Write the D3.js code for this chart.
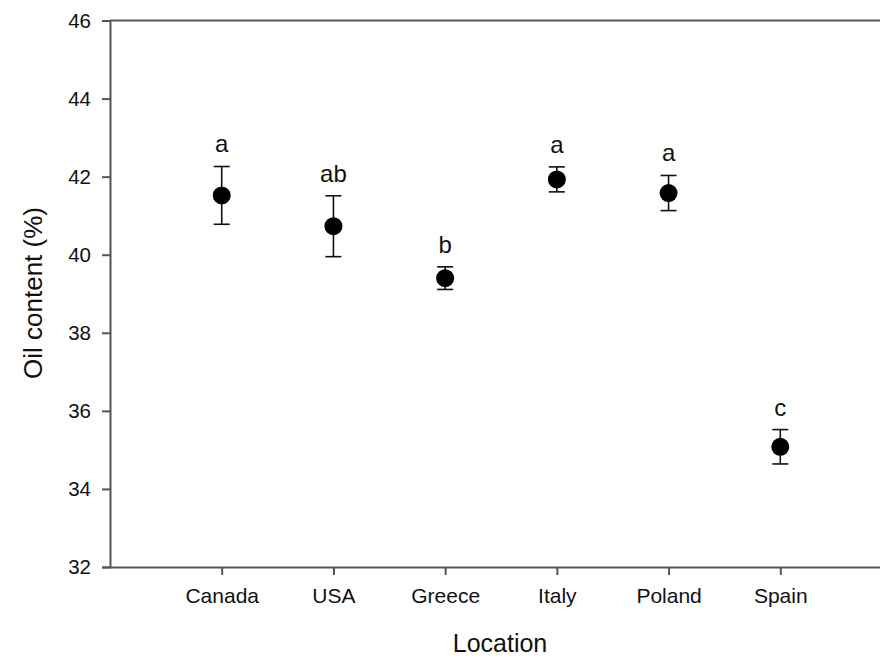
<!DOCTYPE html>
<html>
<head>
<meta charset="utf-8">
<script src="https://cdn.jsdelivr.net/npm/d3@7/dist/d3.min.js"></script>
<style>
  html, body { margin: 0; padding: 0; background: #fff; }
  svg { display: block; font-family: Arial, "Liberation Sans", sans-serif; }
</style>
</head>
<body>
<svg id="chart" width="880" height="659"></svg>
<script>
// Oil content by growing location (mean ± error, letters = significance groups)
const locations = ["Canada", "USA", "Greece", "Italy", "Poland", "Spain"];
const meanOil   = [41.52, 40.73, 39.40, 41.93, 41.58, 35.08];
const errOil    = [0.74, 0.78, 0.29, 0.32, 0.45, 0.44];
const groups    = ["a", "ab", "b", "a", "a", "c"];
const yTicks    = [32, 34, 36, 38, 40, 42, 44, 46];

const svg = d3.select("#chart");
const plotL = 110, plotR = 892, plotT = 20.5, plotB = 567;

const x = d3.scalePoint().domain(locations).range([plotL, plotR]).padding(1);
const y = d3.scaleLinear().domain([32, 46]).range([plotB, plotT]);

const axisColor = "#555";
const fontFam = "Arial, 'Liberation Sans', sans-serif";

// top frame line
svg.append("line")
  .attr("x1", plotL).attr("x2", 880)
  .attr("y1", plotT).attr("y2", plotT)
  .attr("stroke", axisColor).attr("stroke-width", 2);

// y axis
const gy = svg.append("g").attr("transform", `translate(${plotL},0)`)
  .call(d3.axisLeft(y).tickValues(yTicks).tickSize(8).tickPadding(11).tickFormat(d3.format("d")));
gy.select(".domain").attr("stroke", axisColor).attr("stroke-width", 2);
gy.selectAll(".tick line").attr("stroke", axisColor).attr("stroke-width", 2);
gy.selectAll(".tick text").attr("fill", "#111").style("font-size", "20.5px")
  .style("font-family", fontFam);

// x axis
const gx = svg.append("g").attr("transform", `translate(0,${plotB})`)
  .call(d3.axisBottom(x).tickSize(8).tickPadding(13).tickSizeOuter(0));
gx.select(".domain").attr("stroke", axisColor).attr("stroke-width", 2);
gx.selectAll(".tick line").attr("stroke", axisColor).attr("stroke-width", 2);
gx.selectAll(".tick text").attr("fill", "#111").style("font-size", "21px")
  .style("font-family", fontFam);

// axis titles
svg.append("text")
  .attr("x", 500).attr("y", 652)
  .attr("text-anchor", "middle")
  .attr("fill", "#111").style("font-size", "25px")
  .text("Location");

svg.append("text")
  .attr("transform", "translate(42,293) rotate(-90)")
  .attr("text-anchor", "middle")
  .attr("fill", "#111").style("font-size", "26px")
  .text("Oil content (%)");

const rows = locations.map((loc, i) => ({
  loc, mean: meanOil[i], err: errOil[i], grp: groups[i]
}));

const pts = svg.append("g").selectAll("g").data(rows).join("g");

// error bars
pts.append("line")
  .attr("x1", d => x(d.loc)).attr("x2", d => x(d.loc))
  .attr("y1", d => y(d.mean + d.err)).attr("y2", d => y(d.mean - d.err))
  .attr("stroke", "#111").attr("stroke-width", 1.6);
[1, -1].forEach(s => {
  pts.append("line")
    .attr("x1", d => x(d.loc) - 8).attr("x2", d => x(d.loc) + 8)
    .attr("y1", d => y(d.mean + s * d.err)).attr("y2", d => y(d.mean + s * d.err))
    .attr("stroke", "#111").attr("stroke-width", 1.6);
});

// mean markers
pts.append("circle")
  .attr("cx", d => x(d.loc)).attr("cy", d => y(d.mean))
  .attr("r", 9).attr("fill", "#000");

// significance letters
pts.append("text")
  .attr("x", d => x(d.loc)).attr("y", d => y(d.mean + d.err) - 14)
  .attr("text-anchor", "middle")
  .attr("fill", "#111").style("font-size", "24px")
  .text(d => d.grp);
</script>
</body>
</html>
